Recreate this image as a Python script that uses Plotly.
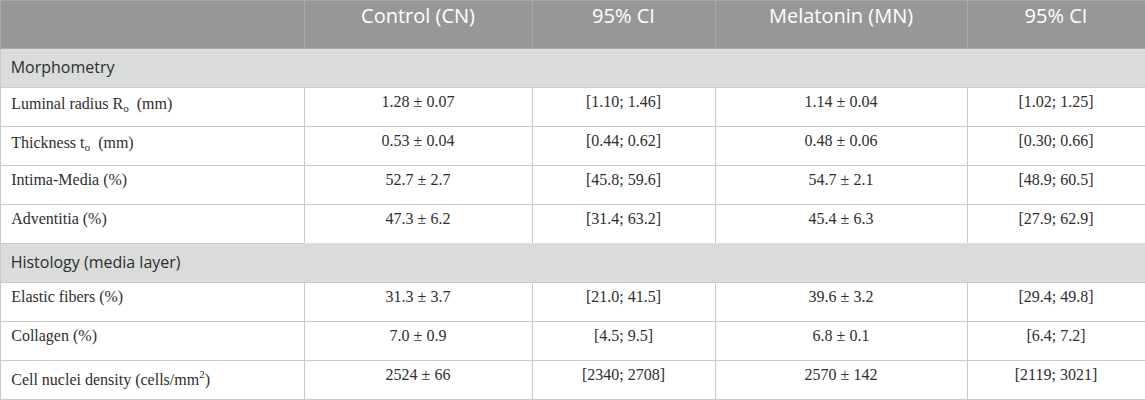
import plotly.graph_objects as go

columns = ["", "Control (CN)", "95% CI", "Melatonin (MN)", "95% CI"]

sections = ["Morphometry", "Histology (media layer)"]
parameters = [
    sections[0],
    "Luminal radius R<sub>o</sub>  (mm)",
    "Thickness t<sub>o</sub>  (mm)",
    "Intima-Media (%)",
    "Adventitia (%)",
    sections[1],
    "Elastic fibers (%)",
    "Collagen (%)",
    "Cell nuclei density (cells/mm<sup>2</sup>)",
]
control = ["", "1.28 ± 0.07", "0.53 ± 0.04", "52.7 ± 2.7", "47.3 ± 6.2",
           "", "31.3 ± 3.7", "7.0 ± 0.9", "2524 ± 66"]
control_ci = ["", "[1.10; 1.46]", "[0.44; 0.62]", "[45.8; 59.6]", "[31.4; 63.2]",
              "", "[21.0; 41.5]", "[4.5; 9.5]", "[2340; 2708]"]
melatonin = ["", "1.14 ± 0.04", "0.48 ± 0.06", "54.7 ± 2.1", "45.4 ± 6.3",
             "", "39.6 ± 3.2", "6.8 ± 0.1", "2570 ± 142"]
melatonin_ci = ["", "[1.02; 1.25]", "[0.30; 0.66]", "[48.9; 60.5]", "[27.9; 62.9]",
                "", "[29.4; 49.8]", "[6.4; 7.2]", "[2119; 3021]"]

sec_fill = "#d9dcdb"
body_line = "#c9c9c9"
text_col = "#2e2e2e"
is_sec = [p in sections for p in parameters]
NB = "\u00a0"
THIN = "\u2009"


def section_label(text):
    # plotly tables split cell text on spaces, but keep "<a href=" intact,
    # so the sans font rides on an <a> tag with no space before style=
    css = ("color:" + text_col + ";font-family:Open\tSans;font-size:16px;"
           "cursor:default")
    return '<a href="#"style="' + css + '">' + THIN + text.replace(" ", NB) + "</a>"


first_col = [section_label(p) if s else THIN + p for p, s in zip(parameters, is_sec)]

fill = [[sec_fill if s else "white" for s in is_sec] for _ in columns]
line_col = [[sec_fill if (s and c > 0) else body_line for s in is_sec]
            for c in range(len(columns))]

fig = go.Figure(go.Table(
    columnwidth=[304, 228, 183, 252, 178],
    header=dict(
        values=columns,
        fill_color="#979797",
        line=dict(color="#a9a9a9", width=1),
        font=dict(family="Open Sans", size=20, color="white"),
        align="center",
        height=48,
    ),
    cells=dict(
        values=[first_col, control, control_ci, melatonin, melatonin_ci],
        fill_color=fill,
        line=dict(color=line_col, width=1),
        font=dict(family="Liberation Serif", size=16, color=text_col),
        align=["left", "center", "center", "center", "center"],
        height=39,
    ),
))

fig.update_layout(
    width=1145, height=400,
    margin=dict(l=0, r=0, t=0, b=0),
    paper_bgcolor="white",
)

fig.write_html("out.html", config={"displayModeBar": False},
               post_script="document.body.style.margin='0';")
